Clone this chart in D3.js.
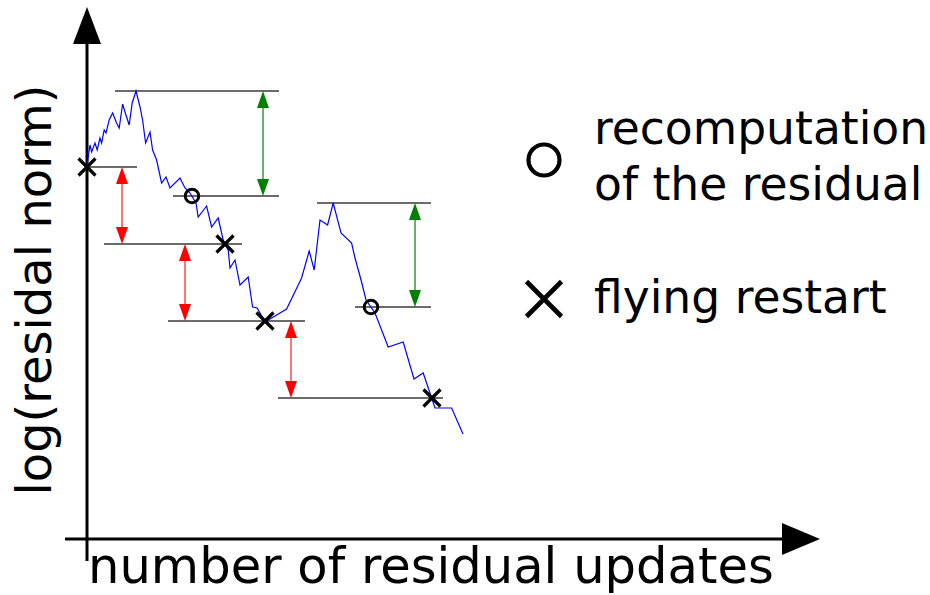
<!DOCTYPE html>
<html>
<head>
<meta charset="utf-8">
<script src="https://cdn.jsdelivr.net/npm/d3@7"></script>
<style>
  html, body { margin: 0; padding: 0; background: #fff; }
  svg { display: block; font-family: "DejaVu Sans", sans-serif; }
</style>
</head>
<body>
<svg id="chart" width="930" height="595"></svg>
<script>
// Residual history: [update index, log(residual norm)]
const residualX = [0, 0.6, 1.5, 2.3, 4, 5.1, 6.5, 7.3, 8.6, 9.5, 11.1, 12.8, 14.8, 16.1, 17.8, 19, 21.1, 22.6, 24.5, 26.5, 27.8, 29.3, 31.5, 32.8, 34.8, 37.3, 39.5, 41.5, 46.5, 49, 51.5, 54.5, 55.6, 59.8, 62.3, 65.6, 68.1, 69.8, 70.6, 71.5, 74, 76.5, 80.6, 82.8, 85.1, 89, 99.8, 107.3, 111.1, 113.6, 116.5, 120.3, 123.1, 127, 132.3, 134, 137.3, 139.5, 144, 150.6, 158.1, 163.5, 168.1, 174, 182.3, 188];
const residualY = [37.3, 38.3, 39.5, 38.8, 39.7, 39.0, 40.2, 39.7, 41.0, 40.7, 42.0, 42.7, 41.7, 41.2, 43.6, 42.8, 41.5, 43.7, 44.9, 43.3, 42.0, 39.7, 40.8, 39.0, 38.0, 35.7, 36.3, 35.2, 36.2, 35.2, 34.7, 33.7, 32.3, 33.4, 31.3, 32.2, 30.0, 29.3, 29.0, 27.2, 28.0, 25.5, 26.3, 23.3, 23.2, 21.8, 23.1, 26.2, 28.9, 27.0, 32.0, 31.5, 33.7, 30.7, 29.7, 28.2, 25.8, 24.0, 22.7, 19.3, 19.8, 16.1, 16.7, 13.2, 13.2, 10.6];

// Flying restarts (crosses) and residual recomputations (circles)
const restartX = [0, 69, 89, 172.5];
const restartY = [37.3, 29.6, 21.9, 14.2];
const recomputeX = [52.5, 142];
const recomputeY = [34.4, 23.3];

// Reference levels: [level, from, to]
const levelY    = [44.9, 37.3, 34.4, 29.6, 21.9, 33.7, 23.3, 14.2];
const levelFrom = [14, 0, 43, 8.5, 40.5, 115, 134, 95.5];
const levelTo   = [96, 25, 96, 77.5, 109, 172, 172, 178];

// Gaps between levels (double arrows)
const gapX    = [88, 17.5, 49, 102, 164];
const gapTop  = [44.9, 37.3, 29.6, 21.9, 33.7];
const gapBot  = [34.4, 29.6, 21.9, 14.2, 23.3];
const gapKind = ["growth", "drop", "drop", "drop", "growth"];

const legendLabels = [["recomputation", "of the residual"], ["flying restart"]];
const axisLabels = { x: "number of residual updates", y: "log(residal norm)" };

const svg = d3.select("#chart");
const x = d3.scaleLinear().domain([0, 188]).range([87, 463]);
const y = d3.scaleLinear().domain([0, 50]).range([540, 40]);

const gapColor = { growth: "#008000", drop: "#ff0000" };
const gapLine  = { growth: "#3a963a", drop: "#ff4a4a" };

// Axes with arrowheads
const ax = x(0), ay = y(0);
svg.append("line").attr("x1", ax).attr("x2", ax).attr("y1", ay + 21).attr("y2", 44)
  .attr("stroke", "#000").attr("stroke-width", 3);
svg.append("path").attr("d", `M${ax},7 L${ax + 14},44 L${ax - 14},44 Z`).attr("fill", "#000");
svg.append("line").attr("x1", 65).attr("x2", 784).attr("y1", ay - 1).attr("y2", ay - 1)
  .attr("stroke", "#000").attr("stroke-width", 3);
svg.append("path").attr("d", `M820,${ay - 1} L782,${ay - 17} L782,${ay + 15} Z`).attr("fill", "#000");

// Level lines
const levels = levelY.map((v, i) => ({ v, a: levelFrom[i], b: levelTo[i] }));
svg.append("g").selectAll("line").data(levels).join("line")
  .attr("x1", d => x(d.a)).attr("x2", d => x(d.b))
  .attr("y1", d => y(d.v)).attr("y2", d => y(d.v))
  .attr("stroke", "#3a3a3a").attr("stroke-width", 1.4);

// Double arrows
const gaps = gapX.map((g, i) => ({ g, t: gapTop[i], b: gapBot[i], k: gapKind[i] }));
const ga = svg.append("g").selectAll("g").data(gaps).join("g");
ga.append("line")
  .attr("x1", d => x(d.g)).attr("x2", d => x(d.g))
  .attr("y1", d => y(d.t) + 8).attr("y2", d => y(d.b) - 8)
  .attr("stroke", d => gapLine[d.k]).attr("stroke-width", 1.5);
ga.append("path")
  .attr("d", d => { const cx = x(d.g), ty = y(d.t); return `M${cx},${ty} L${cx + 6},${ty + 17} L${cx - 6},${ty + 17} Z`; })
  .attr("fill", d => gapColor[d.k]);
ga.append("path")
  .attr("d", d => { const cx = x(d.g), by = y(d.b); return `M${cx},${by} L${cx + 6},${by - 17} L${cx - 6},${by - 17} Z`; })
  .attr("fill", d => gapColor[d.k]);

// Residual curve
const pts = residualX.map((v, i) => [v, residualY[i]]);
svg.append("path").datum(pts)
  .attr("d", d3.line().x(d => x(d[0])).y(d => y(d[1])))
  .attr("fill", "none").attr("stroke", "#0000ff").attr("stroke-width", 1.2);

// Markers
function cross(g, cx, cy, s, w) {
  g.append("path").attr("d", `M${cx - s},${cy - s} L${cx + s},${cy + s} M${cx - s},${cy + s} L${cx + s},${cy - s}`)
    .attr("stroke", "#000").attr("stroke-width", w).attr("fill", "none");
}
const mk = svg.append("g");
restartX.forEach((v, i) => cross(mk, x(v), y(restartY[i]), 8.5, 3.2));
mk.selectAll("circle").data(recomputeX.map((v, i) => [v, recomputeY[i]])).join("circle")
  .attr("cx", d => x(d[0])).attr("cy", d => y(d[1])).attr("r", 6.8)
  .attr("fill", "none").attr("stroke", "#000").attr("stroke-width", 2.9);

// Legend
const lg = svg.append("g");
lg.append("circle").attr("cx", 544).attr("cy", 160).attr("r", 15.5)
  .attr("fill", "none").attr("stroke", "#000").attr("stroke-width", 4.2);
cross(lg, 544, 299, 17.5, 4.6);
const lt = lg.append("text").attr("font-size", 45.6).attr("fill", "#000");
lt.append("tspan").attr("x", 594).attr("y", 144).text(legendLabels[0][0]);
lt.append("tspan").attr("x", 594).attr("y", 200).text(legendLabels[0][1]);
lg.append("text").attr("font-size", 45.6).attr("x", 594).attr("y", 313).text(legendLabels[1][0]);

// Axis titles
svg.append("text").attr("x", 88).attr("y", 583).attr("font-size", 49.6).text(axisLabels.x);
svg.append("text").attr("transform", "translate(51,290) rotate(-90)")
  .attr("text-anchor", "middle").attr("font-size", 48).text(axisLabels.y);
</script>
</body>
</html>
